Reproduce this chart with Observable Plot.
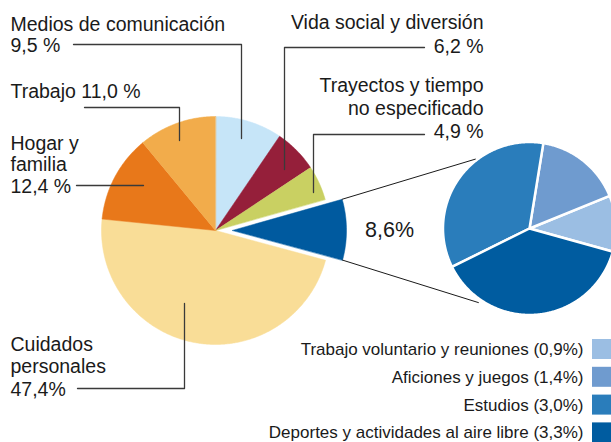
<!DOCTYPE html>
<html><head><meta charset="utf-8">
<script src="https://cdn.jsdelivr.net/npm/d3@7"></script>
<script src="https://cdn.jsdelivr.net/npm/@observablehq/plot@0.6"></script>
<style>
html,body{margin:0;padding:0;background:#fff;overflow:hidden}
#chart svg{overflow:hidden;display:block}
</style></head><body><div id="chart"></div>
<script>
// ---- data ----
const categories = ["Medios de comunicación","Vida social y diversión","Trayectos y tiempo no especificado","Ocio activo","Cuidados personales","Hogar y familia","Trabajo"];
const shares = [9.5, 6.2, 4.9, 8.6, 47.4, 12.4, 11.0];
const colors = ["#c6e5f8","#951f3a","#c9d062","#005a9f","#f9dd97","#e8781a","#f2ac4b"];
const labelNames = ["Medios de comunicación","Vida social y diversión","Trayectos y tiempo\nno especificado",null,"Cuidados\npersonales","Hogar y\nfamilia","Trabajo"];
const labelSeparators = ["\n","\n","\n","","\n","\n"," "];
const labelSuffix = [" %"," %"," %","%","%"," %"," %"];
const subCategories = ["Trabajo voluntario y reuniones","Aficiones y juegos","Estudios","Deportes y actividades al aire libre"];
const subShares = [0.9, 1.4, 3.0, 3.3];
const subColors = ["#9bbee3","#6f9bcf","#2a7dbb","#005ca0"];

// ---- layout ----
const W = 611, H = 442;
const main = {cx: 215, cy: 230, r: 114, explodeIndex: 3, explode: 17};
const sub = {cx: 529, cy: 228, r: 86.5, start: 105.5};
const fmt = v => d3.format(".1f")(v).replace(".", ",");
const FS = 19.5;
const labelLayout = [
  {x: 10, y: 51, anchor: "start", lh: 21},
  {x: 483, y: 52, anchor: "end", lh: 23.5},
  {x: 483, y: 137, anchor: "end", lh: 22.8},
  {x: 389, y: 236.5, anchor: "middle", lh: 20, size: 21.5},
  {x: 10, y: 395, anchor: "start", lh: 22.5},
  {x: 10, y: 192.5, anchor: "start", lh: 21.7},
  {x: 10, y: 97, anchor: "start", lh: 21}
];
const leaders = [
  [[73,44],[241,44],[241,138]],
  [[424,47],[284,47],[284,169]],
  [[424,134],[313,134],[313,192]],
  null,
  [[77,388],[184,388],[184,303]],
  [[76,185],[143,185]],
  [[84,107],[179,107],[179,140]]
];

const rad = Math.PI / 180;
function arcPolygon(key, cx, cy, r, a0, a1) {
  const pts = [{key, x: cx, y: cy}];
  const n = Math.max(2, Math.ceil(Math.abs(a1 - a0) / (0.5 * rad)));
  for (let k = 0; k <= n; k++) {
    const a = a0 + (a1 - a0) * k / n;
    pts.push({key, x: cx + r * Math.sin(a), y: cy - r * Math.cos(a)});
  }
  return pts;
}

// main pie
const mainArcs = d3.pie().sort(null).value(d => d.v)(categories.map((c, i) => ({c, v: shares[i]})));
const mainRows = [];
let connectors = [];
mainArcs.forEach((a, i) => {
  let cx = main.cx, cy = main.cy;
  if (i === main.explodeIndex) {
    const m = (a.startAngle + a.endAngle) / 2;
    cx += main.explode * Math.sin(m); cy -= main.explode * Math.cos(m);
    const p0 = {x: cx + main.r * Math.sin(a.startAngle), y: cy - main.r * Math.cos(a.startAngle)};
    const p1 = {x: cx + main.r * Math.sin(a.endAngle), y: cy - main.r * Math.cos(a.endAngle)};
    const q0 = {x: sub.cx + 88 * Math.sin(322 * rad), y: sub.cy - 88 * Math.cos(322 * rad)};
    const q1 = {x: sub.cx + 90 * Math.sin(214.6 * rad), y: sub.cy - 90 * Math.cos(214.6 * rad)};
    connectors = [{k: 0, ...p0}, {k: 0, ...q0}, {k: 1, ...p1}, {k: 1, ...q1}];
  }
  mainRows.push(...arcPolygon(a.data.c, cx, cy, main.r, a.startAngle, a.endAngle));
});

// sub pie (counter-clockwise)
const subArcs = d3.pie().sort(null).value(d => d.v)
  .startAngle(sub.start * rad).endAngle(sub.start * rad - 2 * Math.PI)(subCategories.map((c, i) => ({c, v: subShares[i]})));
const subRows = [];
subArcs.forEach(a => subRows.push(...arcPolygon(a.data.c, sub.cx, sub.cy, sub.r, a.startAngle, a.endAngle)));

const leaderRows = [];
leaders.forEach((l, i) => { if (l) l.forEach(([x, y]) => leaderRows.push({k: i, x, y})); });

const labelMarks = labelLayout.map((L, i) => {
  const text = (labelNames[i] ? labelNames[i] + labelSeparators[i] : "") + fmt(shares[i]) + labelSuffix[i];
  return Plot.text([text], {x: () => L.x, y: () => L.y, text: d => d, textAnchor: L.anchor, lineAnchor: "bottom",
    lineHeight: L.lh / (L.size || FS), fontSize: L.size || FS, fill: "#1a1a1a"});
});

const legendRows = subCategories.map((c, i) => ({c, i, label: `${c} (${fmt(subShares[i])}%)`}));
const legTop = 339, legStep = 27.8, sw = 20;

const chart = Plot.plot({
  width: W, height: H, margin: 0,
  x: {domain: [0, W], range: [0, W], axis: null},
  y: {domain: [0, H], range: [0, H], axis: null},
  color: {domain: [...categories, ...subCategories], range: [...colors, ...subColors]},
  style: {fontFamily: "'Liberation Sans', Arial, sans-serif", background: "#fff", overflow: "hidden"},
  marks: [
    Plot.line(mainRows, {x: "x", y: "y", z: "key", fill: "key", stroke: "key", strokeWidth: 0.5, curve: "linear-closed"}),
    Plot.line(subRows, {x: "x", y: "y", z: "key", fill: "key", stroke: "#fff", strokeWidth: 2.5, curve: "linear-closed"}),
    Plot.line(connectors, {x: "x", y: "y", z: "k", stroke: "#1a1a1a", strokeWidth: 1}),
    Plot.line(leaderRows, {x: "x", y: "y", z: "k", stroke: "#3a3a3a", strokeWidth: 1.3}),
    ...labelMarks,
    Plot.rect(legendRows, {x1: () => 592, x2: () => 612, y1: d => legTop + d.i * legStep, y2: d => legTop + d.i * legStep + sw, fill: "c"}),
    Plot.text(legendRows, {x: () => 583, y: d => legTop + d.i * legStep + sw / 2, text: "label", textAnchor: "end", lineAnchor: "middle", fontSize: 17, fill: "#1a1a1a"})
  ]
});
document.getElementById("chart").appendChild(chart);
</script></body></html>
